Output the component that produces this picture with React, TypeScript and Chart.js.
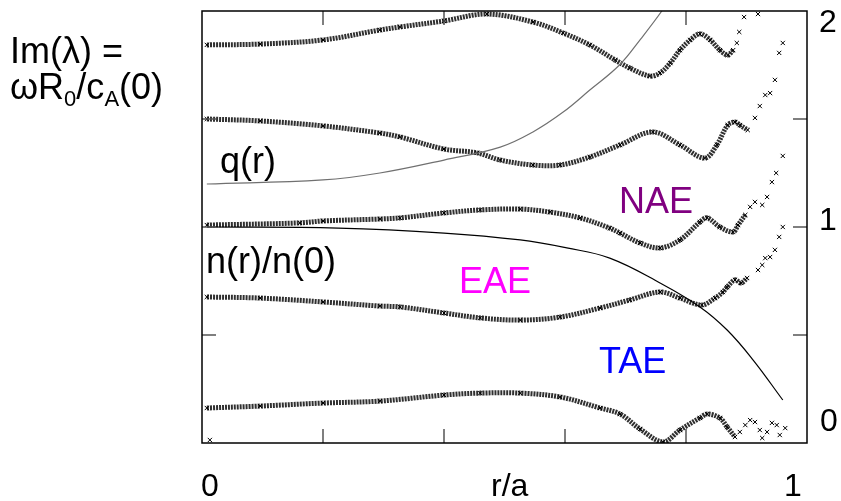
import React, { useEffect, useRef } from "react";
import { Chart, registerables } from "chart.js";
Chart.register(...registerables);

// Branch A (top, starts near 1.84)
const rA = [0.008, 0.096, 0.2, 0.294, 0.327, 0.4, 0.471, 0.547, 0.597, 0.641, 0.683, 0.707, 0.74, 0.757, 0.774, 0.79, 0.807, 0.823, 0.84, 0.856, 0.869, 0.878];
const vA = [1.843, 1.847, 1.866, 1.912, 1.926, 1.954, 1.986, 1.949, 1.898, 1.843, 1.773, 1.736, 1.699, 1.713, 1.759, 1.819, 1.866, 1.894, 1.866, 1.819, 1.796, 1.819];
const rAtail = [0.884, 0.888, 0.896, 0.919];
const vAtail = [1.852, 1.903, 1.972, 1.986];

// Branch B (starts at 1.5)
const rB = [0.008, 0.096, 0.2, 0.294, 0.327, 0.4, 0.455, 0.493, 0.547, 0.592, 0.641, 0.691, 0.745, 0.79, 0.831, 0.851, 0.869, 0.881, 0.889, 0.902];
const vB = [1.5, 1.491, 1.468, 1.435, 1.417, 1.361, 1.343, 1.31, 1.287, 1.287, 1.324, 1.38, 1.44, 1.38, 1.319, 1.38, 1.472, 1.486, 1.472, 1.449];
const rBtail = [0.914, 0.922, 0.931, 0.939, 0.947, 0.954, 0.96];
const vBtail = [1.505, 1.56, 1.611, 1.62, 1.681, 1.806, 1.852];

// Branch C (starts at 1.0)
const rC = [0.008, 0.162, 0.2, 0.294, 0.327, 0.4, 0.46, 0.526, 0.575, 0.625, 0.674, 0.691, 0.724, 0.757, 0.79, 0.823, 0.835, 0.856, 0.878, 0.886, 0.898];
const vC = [1.009, 1.019, 1.028, 1.037, 1.042, 1.065, 1.079, 1.083, 1.069, 1.042, 0.995, 0.972, 0.926, 0.903, 0.94, 1.023, 1.042, 1.0, 0.977, 1.009, 1.056];
const rCtail = [0.906, 0.914, 0.926, 0.934, 0.942, 0.949, 0.96];
const vCtail = [1.093, 1.116, 1.102, 1.139, 1.208, 1.25, 1.329];

// Branch D (starts near 0.68)
const rD = [0.008, 0.096, 0.2, 0.294, 0.327, 0.4, 0.46, 0.526, 0.592, 0.658, 0.707, 0.757, 0.79, 0.826, 0.848, 0.861, 0.868, 0.881, 0.891, 0.901];
const vD = [0.676, 0.671, 0.653, 0.634, 0.63, 0.602, 0.579, 0.569, 0.583, 0.625, 0.662, 0.699, 0.671, 0.639, 0.671, 0.699, 0.722, 0.755, 0.741, 0.764];
const rDtail = [0.919, 0.926, 0.931, 0.939, 0.947, 0.954, 0.96];
const vDtail = [0.801, 0.824, 0.856, 0.861, 0.894, 0.954, 1.0];

// Branch E (bottom, starts near 0.16)
const rE = [0.008, 0.096, 0.2, 0.294, 0.4, 0.46, 0.526, 0.592, 0.658, 0.691, 0.724, 0.762, 0.79, 0.823, 0.835, 0.856, 0.868, 0.881];
const vE = [0.162, 0.171, 0.185, 0.194, 0.222, 0.231, 0.231, 0.213, 0.162, 0.134, 0.065, 0.005, 0.06, 0.116, 0.134, 0.116, 0.074, 0.028];
const rEtail = [0.013, 0.889, 0.898, 0.906, 0.914, 0.922, 0.926, 0.934, 0.942, 0.95, 0.955, 0.964];
const vEtail = [0.014, 0.051, 0.083, 0.106, 0.097, 0.06, 0.023, 0.051, 0.093, 0.083, 0.037, 0.069];

// Safety factor profile q(r) (scaled)
const rQ = [0.008, 0.2, 0.294, 0.4, 0.493, 0.547, 0.597, 0.641, 0.69, 0.725, 0.76, 0.79];
const vQ = [1.199, 1.218, 1.25, 1.31, 1.37, 1.44, 1.532, 1.634, 1.75, 1.87, 2.0, 2.13];

// Density profile n(r)/n(0)
const rN = [0.008, 0.225, 0.4, 0.526, 0.603, 0.674, 0.757, 0.823, 0.868, 0.911, 0.96];
const vN = [1.0, 0.995, 0.972, 0.94, 0.903, 0.856, 0.741, 0.63, 0.523, 0.384, 0.199];

const xTickVals = [0.2, 0.4, 0.6, 0.8];
const yTickVals = [0.5, 1, 1.5];

const pts = (r: number[], v: number[]) => r.map((x, i) => ({ x, y: v[i] }));

const band = (r: number[], v: number[]) => ({
  data: pts(r, v),
  showLine: true,
  borderColor: "rgba(25,25,25,0.9)",
  borderWidth: 5,
  borderDash: [2, 1],
  tension: 0.35,
  pointStyle: "crossRot",
  pointRadius: 3,
  pointBorderWidth: 1,
  pointBorderColor: "#000",
  pointBackgroundColor: "transparent",
});

const tail = (r: number[], v: number[]) => ({
  data: pts(r, v),
  showLine: false,
  pointStyle: "crossRot",
  pointRadius: 3,
  pointBorderWidth: 1,
  pointBorderColor: "#000",
  pointBackgroundColor: "transparent",
});

const profile = (r: number[], v: number[], color: string) => ({
  data: pts(r, v),
  showLine: true,
  borderColor: color,
  borderWidth: 1.2,
  tension: 0.4,
  pointRadius: 0,
  clip: 0,
});

const framePlugin = {
  id: "frame",
  afterDatasetsDraw(chart: any) {
    const { ctx, chartArea: a, scales } = chart;
    ctx.save();
    ctx.strokeStyle = "#555";
    ctx.lineWidth = 1.5;
    const seg = (x1: number, y1: number, x2: number, y2: number) => {
      ctx.beginPath();
      ctx.moveTo(x1, y1);
      ctx.lineTo(x2, y2);
      ctx.stroke();
    };
    for (const t of xTickVals) {
      const px = scales.x.getPixelForValue(t);
      seg(px, a.bottom, px, a.bottom - 14);
      seg(px, a.top, px, a.top + 14);
    }
    for (const t of yTickVals) {
      const py = scales.y.getPixelForValue(t);
      seg(a.left, py, a.left + 14, py);
      seg(a.right, py, a.right - 14, py);
    }
    ctx.strokeStyle = "#000";
    ctx.lineWidth = 1.5;
    ctx.strokeRect(a.left, a.top, a.right - a.left, a.bottom - a.top);
    ctx.restore();
  },
};

const FONT = "'Liberation Sans', Arial, Helvetica, sans-serif";

export default function App() {
  const ref = useRef<HTMLCanvasElement | null>(null);
  useEffect(() => {
    document.body.style.margin = "0";
    const canvas = ref.current;
    if (!canvas) return;
    const chart = new Chart(canvas, {
      type: "scatter",
      data: {
        datasets: [
          profile(rQ, vQ, "#707070"),
          profile(rN, vN, "#000"),
          band(rA, vA),
          tail(rAtail, vAtail),
          band(rB, vB),
          tail(rBtail, vBtail),
          band(rC, vC),
          tail(rCtail, vCtail),
          band(rD, vD),
          tail(rDtail, vDtail),
          band(rE, vE),
          tail(rEtail, vEtail),
        ] as any,
      },
      options: {
        responsive: false,
        animation: false,
        events: [],
        layout: { padding: { left: 202, top: 11, right: 34, bottom: 58 } },
        plugins: { legend: { display: false }, tooltip: { enabled: false } },
        scales: {
          x: { type: "linear", min: 0, max: 1, display: false },
          y: { type: "linear", min: 0, max: 2, display: false },
        },
      },
      plugins: [framePlugin],
    });
    return () => chart.destroy();
  }, []);

  const t = (x: number, y: number, s: string, size = 36, fill = "#000") => (
    <text x={x} y={y} fontSize={size} fill={fill} fontFamily={FONT}>
      {s}
    </text>
  );

  return (
    <div style={{ position: "relative", width: 841, height: 501, background: "#fff" }}>
      <canvas ref={ref} width={841} height={501} style={{ display: "block" }} />
      <svg
        width={841}
        height={501}
        style={{ position: "absolute", left: 0, top: 0, pointerEvents: "none" }}
      >
        {t(10, 63, "Im(λ) =")}
        <text x={10} y={99} fontSize={36} fill="#000" fontFamily={FONT}>
          ωR
          <tspan fontSize={22} dy={7}>0</tspan>
          <tspan dy={-7}>/c</tspan>
          <tspan fontSize={22} dy={7}>A</tspan>
          <tspan dy={-7}>(0)</tspan>
        </text>
        {t(220, 173, "q(r)")}
        {t(206, 273, "n(r)/n(0)")}
        {t(459, 293, "EAE", 36, "#ff00ff")}
        {t(619, 213, "NAE", 36, "#800080")}
        {t(599, 373, "TAE", 36, "#0000ff")}
        {t(819, 32, "2", 32)}
        {t(819, 230, "1", 32)}
        {t(820, 431, "0", 32)}
        {t(201, 496, "0", 32)}
        {t(491, 496, "r/a", 32)}
        {t(784, 496, "1", 32)}
      </svg>
    </div>
  );
}
